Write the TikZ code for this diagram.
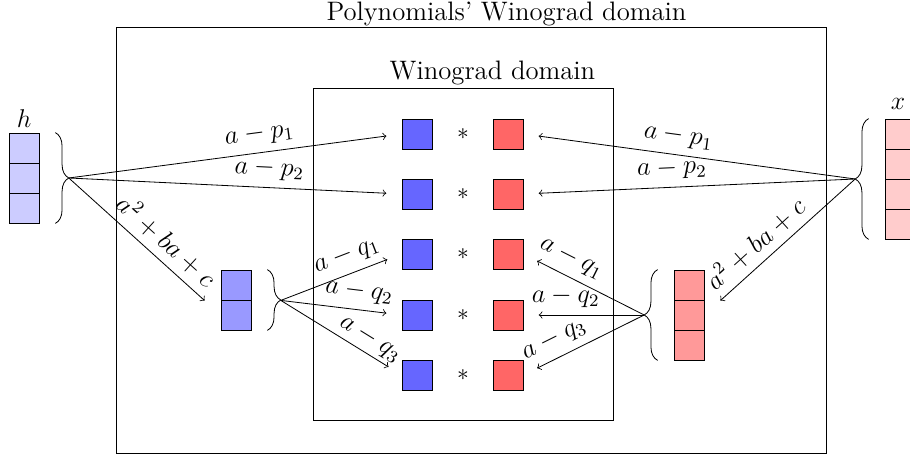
\documentclass[tikz,border=0pt]{standalone}
\usetikzlibrary{decorations.pathreplacing,calc}
\begin{document}
\begin{tikzpicture}[x=0.49pt,y=-0.49pt,
  cell/.style={draw, minimum size=14.7pt, inner sep=0pt},
  sqb/.style={draw, fill=blue!60, minimum size=14.7pt, inner sep=0pt},
  sqr/.style={draw, fill=red!60, minimum size=14.7pt, inner sep=0pt},
  lab/.style={above, sloped, font=\large, scale=1.08},
  ttl/.style={font=\large, scale=1.09},
  brc/.style={decorate, decoration={brace, amplitude=6.6pt}},
  frame/.style={draw, inner sep=0pt}
]
\useasboundingbox (0,0) rectangle (910,458);
% domains
\node[frame, minimum width=347.9pt, minimum height=208.7pt] (outer) at (471,240) {};
\node[frame, minimum width=147pt, minimum height=162.7pt] (inner) at (463,254) {};
\node[ttl] (t1) at (506.5,14) {Polynomials' Winograd domain};
\node[ttl] (t2) at (492.5,73) {Winograd domain};
% products
\foreach \i/\y in {1/134,2/194,3/254,4/315,5/375} {
  \node[sqb] (b\i) at (417,\y) {};
  \node[scale=1.15] (s\i) at (463,\y) {$*$};
  \node[sqr] (r\i) at (508,\y) {};
}
% vectors
\foreach \i/\y in {1/148,2/178,3/208} \node[cell, fill=blue!20] (h\i) at (24,\y) {};
\foreach \i/\y in {1/134,2/164,3/194,4/224} \node[cell, fill=red!20] (x\i) at (900,\y) {};
\foreach \i/\y in {1/285,2/315} \node[cell, fill=blue!40] (p\i) at (236,\y) {};
\foreach \i/\y in {1/285,2/315,3/345} \node[cell, fill=red!40] (q\i) at (689,\y) {};
\node[font=\large, scale=1.05] (hl) at (24,119) {$h$};
\node[font=\large, scale=1.05] (xl) at (898,104) {$x$};
% braces
\draw[brc] ([xshift=7.8pt]h1.north east) -- ([xshift=7.8pt]h3.south east);
\coordinate (hb) at ([xshift=14.4pt]h2.east);
\draw[brc] ([xshift=-7.8pt]x4.south west) -- ([xshift=-7.8pt]x1.north west);
\coordinate (xm) at ($(x2.west)!0.5!(x3.west)$);
\coordinate (xb) at ([xshift=-14.4pt]xm);
\draw[brc] ([xshift=7.8pt]p1.north east) -- ([xshift=7.8pt]p2.south east);
\coordinate (pb) at ([xshift=14.4pt]p1.south east);
\draw[brc] ([xshift=-7.8pt]q3.south west) -- ([xshift=-7.8pt]q1.north west);
\coordinate (qb) at ([xshift=-14.4pt]q2.west);
% left arrows
\draw[->, shorten >=7.5pt] (hb) -- (b1.west) node[lab, pos=0.58] {$a-p_1$};
\draw[->, shorten >=7.5pt] (hb) -- (b2.west) node[lab, pos=0.6] {$a-p_2$};
\draw[->, shorten >=10.5pt] (hb) -- (p2.west) node[lab, pos=0.56] {$a^2+ba+c$};
\draw[->, shorten >=7.5pt] (pb) -- (b3.west) node[lab, pos=0.6] {$a-q_1$};
\draw[->, shorten >=7.5pt] (pb) -- (b4.west) node[lab, pos=0.63] {$a-q_2$};
\draw[->, shorten >=7.5pt] (pb) -- (b5.west) node[lab, pos=0.68, inner sep=1.5pt] {$a-q_3$};
% right arrows
\draw[<-, shorten <=7.5pt] (r1.east) -- (xb) node[lab, pos=0.46] {$a-p_1$};
\draw[<-, shorten <=7.5pt] (r2.east) -- (xb) node[lab, pos=0.45] {$a-p_2$};
\draw[<-, shorten <=10.5pt] (q2.east) -- (xb) node[lab, pos=0.42] {$a^2+ba+c$};
\draw[<-, shorten <=7.5pt] (r3.east) -- (qb) node[lab, pos=0.33] {$a-q_1$};
\draw[<-, shorten <=7.5pt] (r4.east) -- (qb) node[lab, pos=0.35] {$a-q_2$};
\draw[<-, shorten <=7.5pt] (r5.east) -- (qb) node[lab, pos=0.32] {$a-q_3$};
\end{tikzpicture}
\end{document}
